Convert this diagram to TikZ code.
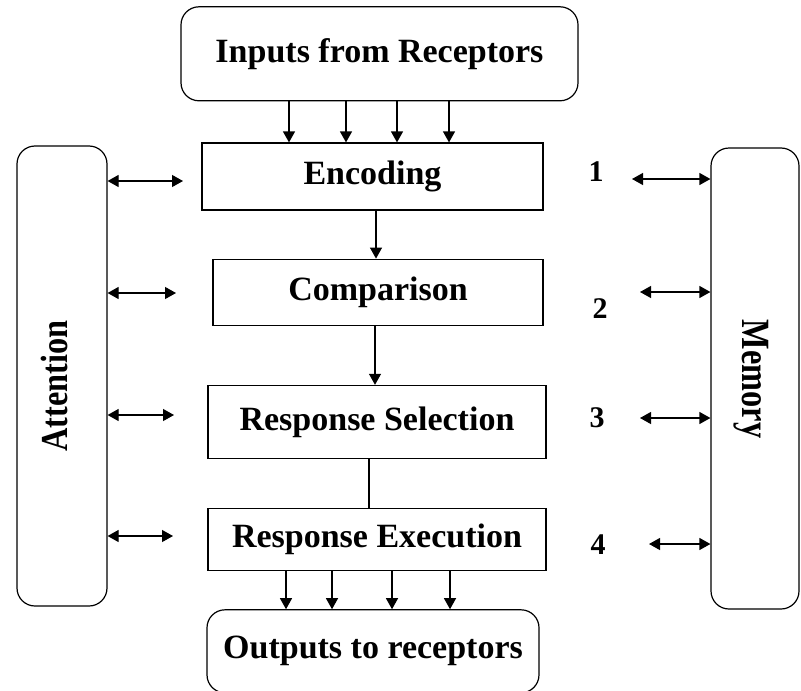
\documentclass[tikz,border=0pt]{standalone}
\usepackage{fontspec}
\setmainfont{Liberation Serif}
\usetikzlibrary{arrows.meta, positioning}

\begin{document}
\begin{tikzpicture}[
    x=0.5pt, y=-0.5pt,
    % Global styles
    font=\bfseries\fontsize{17}{20}\selectfont,
    line width=0.6pt,
    % Box styles
    stage/.style={
        rectangle,
        text centered,
        draw=black,
        fill=white,
        inner sep=0pt
    },
    port/.style={
        rectangle,
        rounded corners=9pt,
        text centered,
        draw=black,
        inner sep=0pt
    },
    side/.style={
        rectangle,
        rounded corners=9pt,
        draw=black,
        minimum height=230pt
    },
    arrow/.style={
        -{Triangle[length=5.5pt, width=6pt]}
    },
    twoway/.style={
        {Triangle[length=5.5pt, width=6pt]}-{Triangle[length=5.5pt, width=6pt]}
    },
    number/.style={
        font=\bfseries\fontsize{15}{18}\selectfont
    }
]
\useasboundingbox (0,0) rectangle (801,690);

% --- Nodes ---

% Processing stages
\node (encoding) [stage, minimum width=170.5pt, minimum height=33.5pt] at (372.5,176.5) {Encoding};
\node (comparison) [stage, minimum width=165pt, minimum height=33pt, below=24pt of encoding, xshift=2.75pt] {Comparison};
\node (selection) [stage, minimum width=169pt, minimum height=36.5pt, below=29.5pt of comparison, xshift=-0.5pt] {Response Selection};
\node (execution) [stage, minimum width=169pt, minimum height=31pt, below=24.5pt of selection] {Response Execution};

% Input and output
\node (inputs) [port, minimum width=198.5pt, minimum height=47pt, above=20.5pt of encoding, xshift=3.5pt] {Inputs from Receptors};
\node (outputs) [port, minimum width=166pt, minimum height=41.5pt, below=19pt of execution, xshift=-2pt] {Outputs to receptors};

% Side systems
\node (attention) [side, minimum width=45pt] at (62,376) {};
\node (attention_label) [rotate=90] at (54,386) {\scalebox{0.95}[1.12]{Attention}};
\node (memory) [side, minimum width=44pt, minimum height=230.5pt] at (755,378.5) {};
\node (memory_label) [rotate=-90] at (751,379) {\scalebox{0.95}[1.18]{Memory}};

% Stage numbers
\node (num1) [number] at (596,172) {1};
\node (num2) [number] at (600,309) {2};
\node (num3) [number] at (597,418) {3};
\node (num4) [number] at (598,545) {4};

% --- Edges ---

% Inputs into encoding
\foreach \x in {289,346,397,449}
    \draw [arrow] (\x,0 |- inputs.south) -- (\x,0 |- encoding.north);

% Main flow
\draw [arrow] (376,0 |- encoding.south) -- (376,0 |- comparison.north);
\draw [arrow] (375,0 |- comparison.south) -- (375,0 |- selection.north);
\draw (369,0 |- selection.south) -- (369,0 |- execution.north);

% Execution to outputs
\foreach \x in {286,332,392,450}
    \draw [arrow] (\x,0 |- execution.south) -- (\x,0 |- outputs.north);

% Attention links
\foreach \i/\x/\y in {1/183/181, 2/176/293, 3/174/415, 4/173/536} {
    \coordinate (att\i) at (\x,\y);
    \draw [twoway] (attention.east |- att\i) -- (att\i);
}

% Memory links
\foreach \i/\x/\y in {1/632/179, 2/640/292, 3/640/418, 4/649/544} {
    \coordinate (mem\i) at (\x,\y);
    \draw [twoway] (mem\i) -- (memory.west |- mem\i);
}

\end{tikzpicture}
\end{document}
